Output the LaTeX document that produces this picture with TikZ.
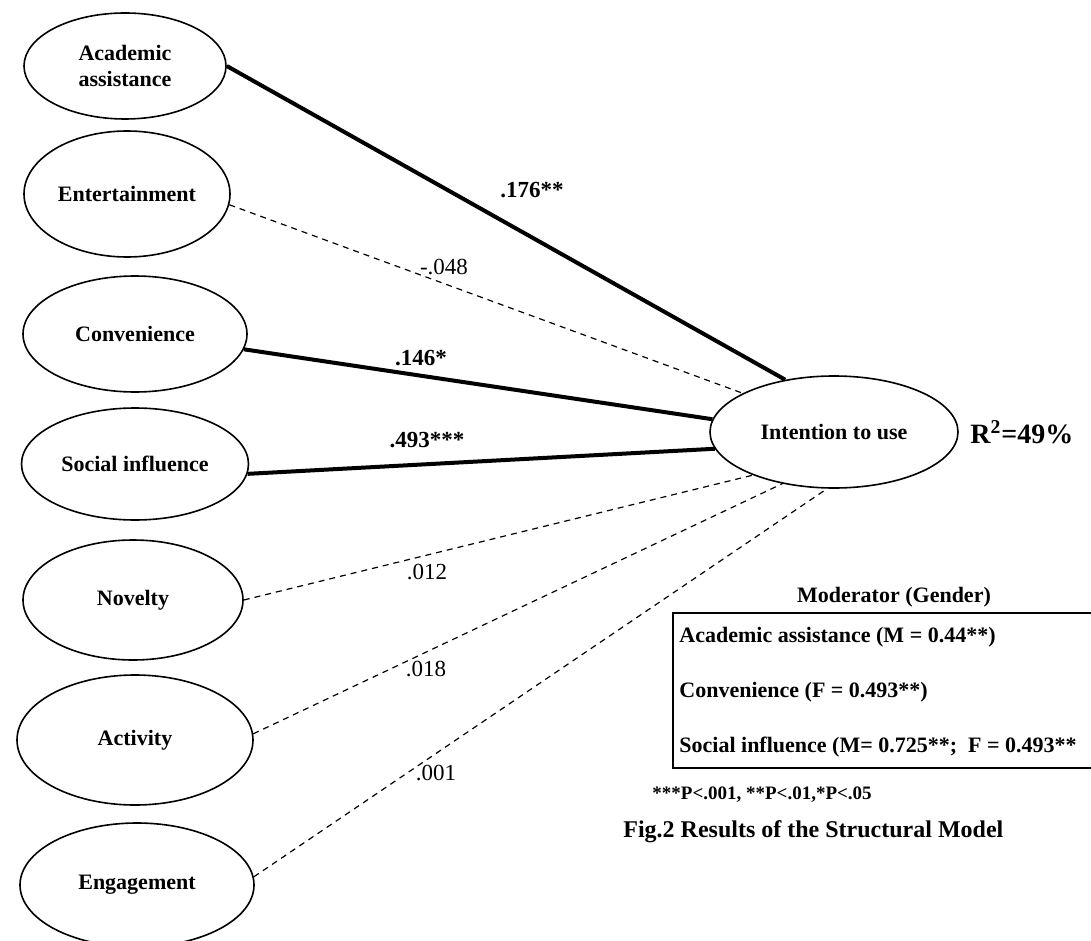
\documentclass[tikz,border=0pt]{standalone}
\usepackage{fontspec}
\setmainfont{Liberation Serif}
\usetikzlibrary{shapes.geometric}

\begin{document}
\begin{tikzpicture}[x=0.5pt, y=-0.5pt,
    latent/.style={draw, ellipse, line width=0.8pt, inner sep=0pt, align=center,
                   font=\fontsize{11}{13}\selectfont\bfseries},
    sig/.style={line width=2pt},
    nonsig/.style={line width=0.6pt, dash pattern=on 3pt off 2.5pt},
    coef/.style={font=\fontsize{11.5}{13}\selectfont},
    coefb/.style={font=\fontsize{11.5}{13}\selectfont\bfseries},
    note/.style={font=\fontsize{11}{13}\selectfont\bfseries, anchor=west, inner sep=1pt},
]
    \useasboundingbox (0,0) rectangle (1091,941);

    \node[latent, minimum width=101pt, minimum height=53pt] (aca) at (125,66) {Academic\\assistance};
    \node[latent, minimum width=103pt, minimum height=63pt] (ent) at (127,194) {Entertainment};
    \node[latent, minimum width=112pt, minimum height=58pt] (con) at (135,334) {Convenience};
    \node[latent, minimum width=113.5pt, minimum height=56pt] (soc) at (135,464) {Social influence};
    \node[latent, minimum width=110pt, minimum height=60pt] (nov) at (133,600) {Novelty};
    \node[latent, minimum width=118pt, minimum height=65pt] (act) at (135,740) {Activity};
    \node[latent, minimum width=117pt, minimum height=62pt] (eng) at (137,885) {Engagement};
    \node[latent, minimum width=124pt, minimum height=56pt] (intent) at (834,432) {Intention to use};

    \draw[sig] (aca.east) -- (intent.133);
    \draw[nonsig] (ent.-6) -- (intent.157);
    \draw[sig] (con.-8) -- (intent.174);
    \draw[sig] (soc.-5) -- (intent.-172);
    \draw[nonsig] (nov.east) -- (intent.-152);
    \draw[nonsig] (act.3) -- (intent.-135);
    \draw[nonsig] (eng.4) -- (intent.-97);

    \node[coefb] (c176) at (532,190) {.176**};
    \node[coef] (c048) at (444,267) {-.048};
    \node[coefb] (c146) at (421,358) {.146*};
    \node[coefb] (c493) at (427,440) {.493***};
    \node[coef] (c012) at (427,572) {.012};
    \node[coef] (c018) at (426,669) {.018};
    \node[coef] (c001) at (436,773) {.001};

    \node[note, font=\fontsize{14}{16}\selectfont\bfseries] (rsq) at (968,432)
        {R\textsuperscript{2}=49\%};

    \node[note, anchor=center] (modtitle) at (894,597) {Moderator (Gender)};
    \coordinate (boxtr) at (1091,613);
    \coordinate (boxbl) at (673,768);
    \coordinate (boxbr) at (1091,768);
    \draw[line width=0.8pt] (boxtr) -| (boxbl) -- (boxbr);
    \node[note] (modaca) at (677,637) {Academic assistance (M = 0.44**)};
    \node[note] (modcon) at (677,692) {Convenience (F = 0.493**)};
    \node[note] (modsoc) at (677,747) {Social influence (M= 0.725**;\ \ F = 0.493**};

    \node[note, font=\fontsize{9.5}{11}\selectfont\bfseries] (pval) at (650,795) {***P<.001, **P<.01,*P<.05};
    \node[note, font=\fontsize{12}{14}\selectfont\bfseries] (caption) at (621,832) {Fig.2 Results of the Structural Model};
\end{tikzpicture}
\end{document}
